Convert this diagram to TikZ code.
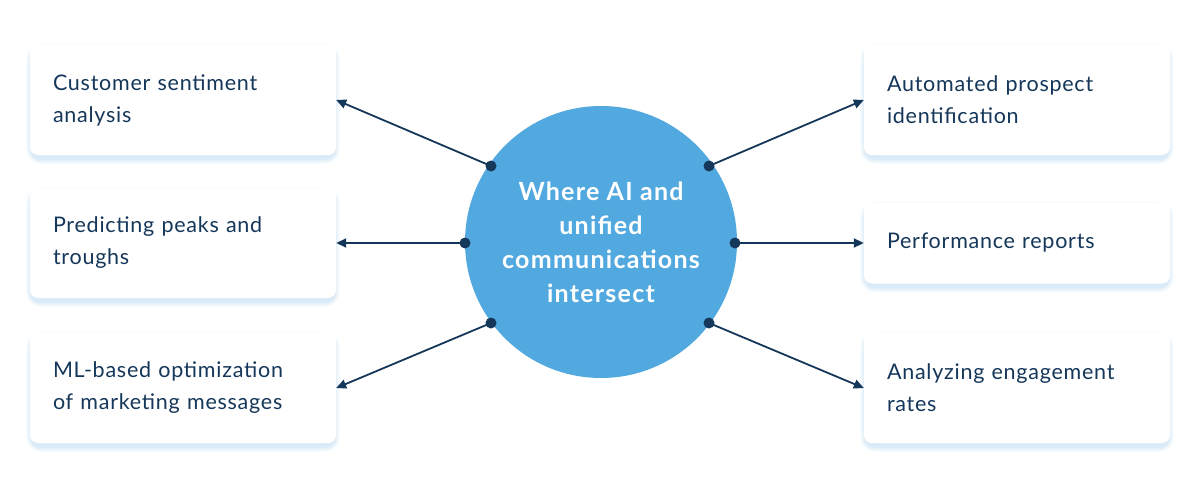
\documentclass[tikz,border=0pt]{standalone}
\usepackage{fontspec}
\setmainfont{Lato}[LetterSpace=3.5]
\newfontfamily\hubfont{Lato}[LetterSpace=5]
\usetikzlibrary{arrows.meta,calc,backgrounds}
\definecolor{navy}{HTML}{15375A}
\definecolor{cblue}{HTML}{52A9E0}
\definecolor{shadowblue}{HTML}{8EC5EE}
\newcommand\cardshadow[1]{%
  \begin{scope}[on background layer]
    \foreach \k in {1,...,7}{
      \fill[shadowblue, opacity=0.05, rounded corners={8pt+\k pt}]
        ($(#1.north west)+(-\k*0.8+2,-\k*0.8+5)$) rectangle ($(#1.south east)+(\k*0.8-2,\k*0.8+3)$);
    }
  \end{scope}}
\begin{document}
\begin{tikzpicture}[x=1pt,y=-1pt,
  card/.style={fill=white, rounded corners=8pt, minimum width=306pt, inner xsep=23pt,
    text width=260pt, align=left, text=navy,
    font=\fontsize{21.5}{32}\selectfont},
  link/.style={draw=navy, line width=1.8pt, -{Triangle[length=10pt,width=9pt]}},
  hub/.style={circle, fill=cblue, minimum size=272pt, inner sep=0pt, text=white, align=center,
    font=\hubfont\fontsize{25}{34}\selectfont\bfseries}]
\begin{scope}[on background layer]
\fill[white] (0,0) rectangle (1200,487);
\end{scope}
\node[card, minimum height=110pt] (l1) at (183,100) {Customer sentiment\\analysis};
\node[card, minimum height=110pt] (l2) at (183,243) {Predicting peaks and\\troughs};
\node[card, minimum height=110pt] (l3) at (183,388) {ML-based optimization\\of marketing messages};
\node[card, minimum height=110pt] (r1) at (1017,100) {Automated prospect\\identification};
\node[card, minimum height=81pt] (r2) at (1017,243) {Performance reports};
\node[card, minimum height=110pt] (r3) at (1017,388) {Analyzing engagement\\rates};
\foreach \n in {l1,l2,l3,r1,r2,r3} \cardshadow{\n};
\node[hub] (hub) at (601,242) {Where AI and\\unified\\communications\\intersect};
\coordinate (d1) at (491,166);
\coordinate (d2) at (465,243);
\coordinate (d3) at (491,323);
\coordinate (d4) at (709,166);
\coordinate (d5) at (735,243);
\coordinate (d6) at (709,323);
\draw[link] (d1) -- (l1.east);
\draw[link] (d2) -- (l2.east);
\draw[link] (d3) -- (l3.east);
\draw[link] (d4) -- (r1.west);
\draw[link] (d5) -- (r2.west);
\draw[link] (d6) -- (r3.west);
\foreach \d in {d1,d2,d3,d4,d5,d6} \fill[navy] (\d) circle (5.5pt);
\end{tikzpicture}
\end{document}
